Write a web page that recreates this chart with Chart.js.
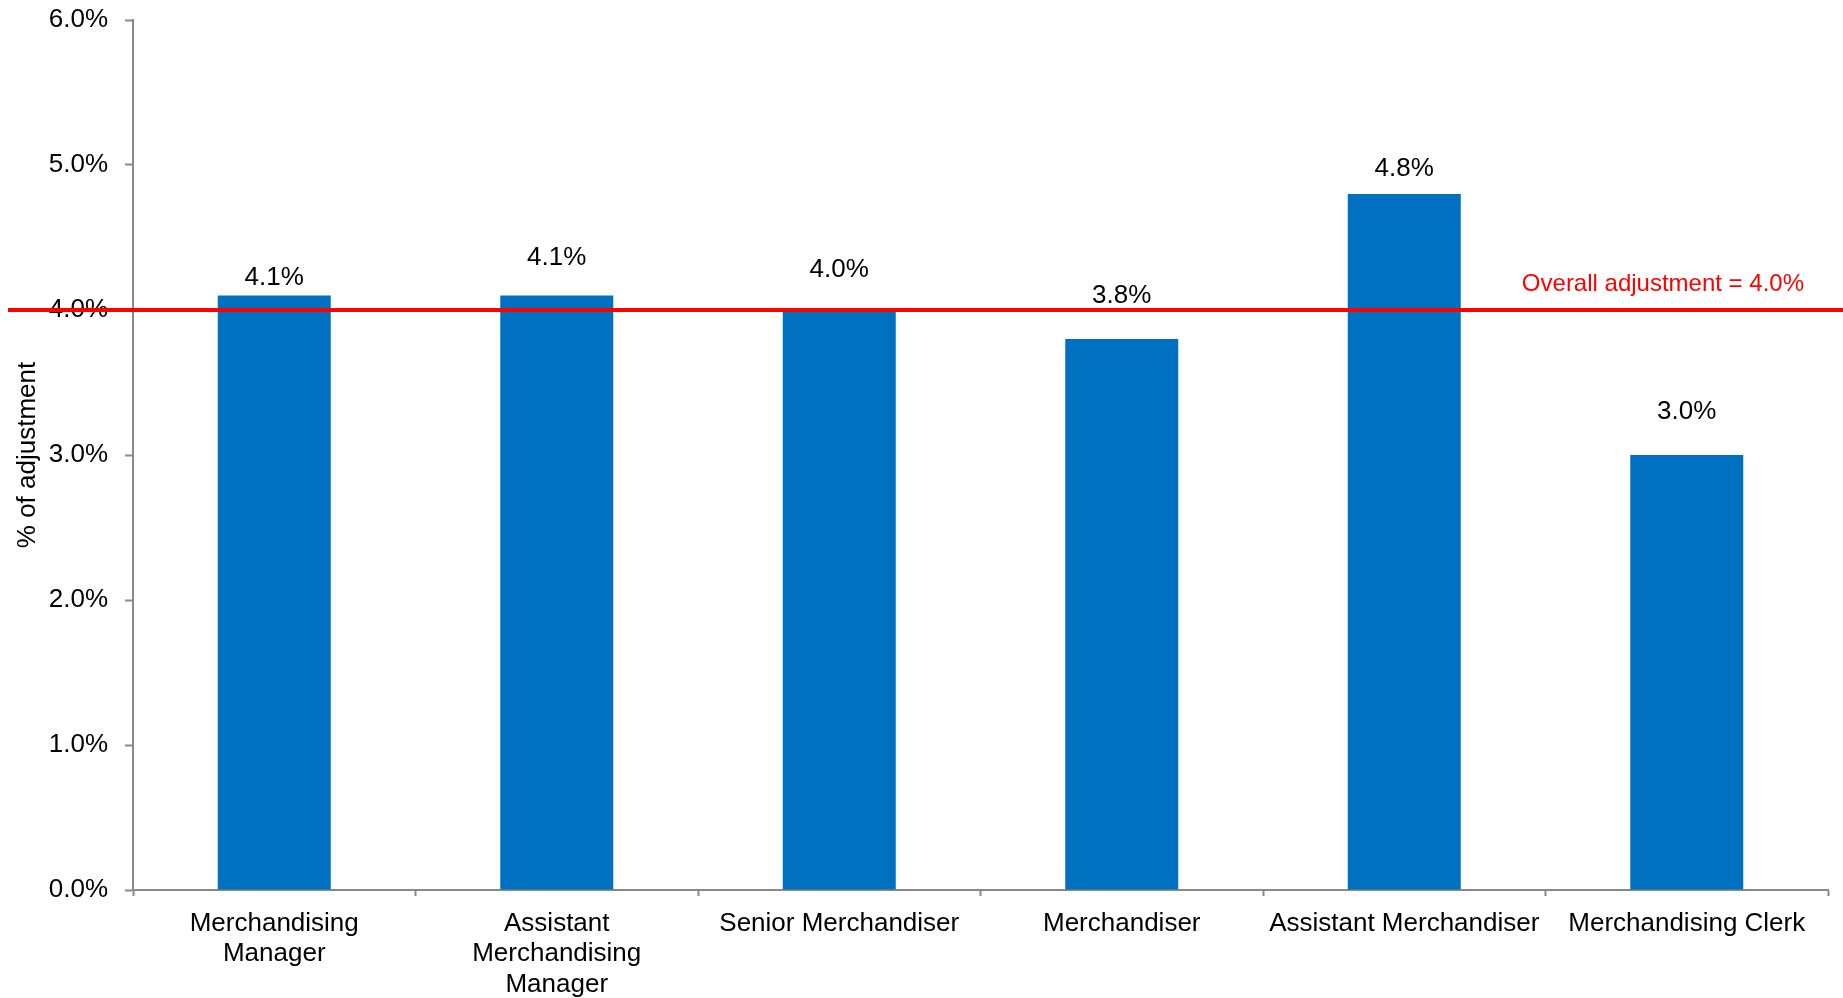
<!DOCTYPE html>
<html>
<head>
<meta charset="utf-8">
<title>% of adjustment by position</title>
<script src="https://cdn.jsdelivr.net/npm/chart.js@4/dist/chart.umd.min.js"></script>
<style>
  html, body { margin: 0; padding: 0; background: #ffffff; }
  #wrap { width: 1843px; height: 998px; }
</style>
</head>
<body>
<div id="wrap"><canvas id="chart" width="1843" height="998"></canvas></div>
<script>
// Job positions (multi-line labels are split into arrays)
const categories = [
  ['Merchandising', 'Manager'],
  ['Assistant', 'Merchandising', 'Manager'],
  'Senior Merchandiser',
  'Merchandiser',
  'Assistant Merchandiser',
  'Merchandising Clerk'
];

// Salary adjustment per position, in percent
const adjustment = [4.1, 4.1, 4.0, 3.8, 4.8, 3.0];

// Overall adjustment across all positions, in percent
const overallAdjustment = 4.0;

// Value axis range and step, in percent
const axisMin = 0;
const axisMax = 6;
const axisStep = 1;

// How far above each bar top its value label sits (px)
const labelLift = [18, 38, 40, 43, 25, 43];

const FONT = '"Liberation Sans", Arial, Helvetica, sans-serif';
const AXIS_GREY = '#898989';
const BAR_BLUE = '#0070C0';
const LINE_RED = '#FF0000';

const pct = v => Number(v).toFixed(1) + '%';

// Value labels above the bars
const valueLabels = {
  id: 'valueLabels',
  afterDatasetsDraw(chart) {
    const ctx = chart.ctx;
    const meta = chart.getDatasetMeta(0);
    ctx.save();
    ctx.font = '26px ' + FONT;
    ctx.fillStyle = '#000000';
    ctx.textAlign = 'center';
    ctx.textBaseline = 'middle';
    meta.data.forEach((bar, i) => {
      ctx.fillText(pct(adjustment[i]), bar.x, bar.y - labelLift[i]);
    });
    ctx.restore();
  }
};

// Overall adjustment reference line spanning the full width, with its caption
const overallLine = {
  id: 'overallLine',
  afterDraw(chart) {
    const ctx = chart.ctx;
    const y = chart.scales.y.getPixelForValue(overallAdjustment);
    ctx.save();
    ctx.strokeStyle = LINE_RED;
    ctx.lineWidth = 4;
    ctx.beginPath();
    ctx.moveTo(8, y);
    ctx.lineTo(chart.width, y);
    ctx.stroke();
    ctx.font = '24px ' + FONT;
    ctx.fillStyle = LINE_RED;
    ctx.textAlign = 'right';
    ctx.textBaseline = 'middle';
    ctx.fillText('Overall adjustment = ' + pct(overallAdjustment), 1804, y - 26);
    ctx.restore();
  }
};

new Chart(document.getElementById('chart'), {
  type: 'bar',
  data: {
    labels: categories,
    datasets: [{
      label: '% of adjustment',
      data: adjustment,
      backgroundColor: BAR_BLUE,
      borderWidth: 0,
      barPercentage: 0.4,
      categoryPercentage: 1.0
    }]
  },
  options: {
    responsive: false,
    animation: false,
    events: [],
    layout: { padding: { top: 20, right: 15, left: 0, bottom: 0 } },
    plugins: {
      legend: { display: false },
      tooltip: { enabled: false },
      title: { display: false }
    },
    scales: {
      x: {
        offset: true,
        grid: {
          display: true,
          offset: true,
          drawOnChartArea: false,
          drawTicks: true,
          tickLength: 6,
          tickWidth: 2,
          tickColor: AXIS_GREY,
          color: AXIS_GREY
        },
        border: { display: true, color: AXIS_GREY, width: 2 },
        ticks: {
          color: '#000000',
          font: { family: FONT, size: 26, lineHeight: 1.18 },
          padding: 12,
          maxRotation: 0,
          minRotation: 0,
          autoSkip: false
        },
        afterFit(scale) {
          scale.height = 108;
          scale.paddingLeft = 0;
          scale.paddingRight = 0;
        }
      },
      y: {
        min: axisMin,
        max: axisMax,
        grid: {
          display: true,
          drawOnChartArea: false,
          drawTicks: true,
          tickLength: 8,
          tickWidth: 2,
          tickColor: AXIS_GREY,
          color: AXIS_GREY
        },
        border: { display: true, color: AXIS_GREY, width: 2 },
        ticks: {
          stepSize: axisStep,
          color: '#000000',
          font: { family: FONT, size: 26 },
          padding: 17,
          callback: v => pct(v)
        },
        title: {
          display: true,
          text: '% of adjustment',
          color: '#000000',
          font: { family: FONT, size: 26, lineHeight: 1.2 },
          padding: { top: 12, bottom: 0 }
        },
        afterFit(scale) {
          scale.width = 133;
          scale.paddingTop = 0;
          scale.paddingBottom = 0;
        }
      }
    }
  },
  plugins: [valueLabels, overallLine]
});
</script>
</body>
</html>
